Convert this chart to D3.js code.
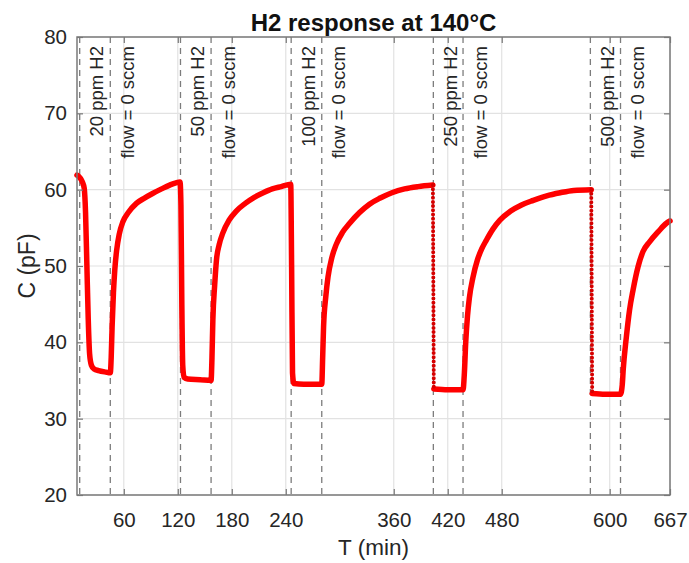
<!DOCTYPE html>
<html>
<head>
<meta charset="utf-8">
<script src="https://cdn.jsdelivr.net/npm/d3@7"></script>
<style>
  body { margin: 0; background: #fff; }
  svg { font-family: "Liberation Sans", Arial, Helvetica, sans-serif; }
</style>
</head>
<body>
<script>
// H2 response trace (time in minutes, capacitance in pF)
var timeMin = [8, 11, 14, 16, 17.5, 19, 20.5, 22, 24, 27, 32, 40, 45,
  46, 47, 48.5, 50, 52, 55, 59, 65, 74, 83, 92, 102, 111, 118, 122.5,
  123.5, 124.5, 125.5, 127, 131, 145, 157,
  158, 159, 161, 163, 166, 170, 177, 185, 195, 205, 215, 225, 235, 245.5,
  246.5, 247.5, 249, 260, 280,
  281, 282, 284.5, 287, 291, 296, 303, 311, 322, 333, 345, 358, 372, 387, 403.5,
  404.5, 420, 437,
  438.5, 440, 442, 444, 448, 453, 458, 463, 470, 478, 490, 502, 515, 530, 545, 560, 579.5,
  580.5, 595, 612,
  614, 615, 618.5, 622, 626, 631.5, 637, 644.5, 654, 663, 667];
var capPF = [61.9, 61.6, 61.0, 60.2, 57, 50, 43, 38.5, 37.0, 36.5, 36.3, 36.1, 36.0,
  38, 42, 46.5, 49.5, 52, 54.2, 55.8, 57.0, 58.2, 58.9, 59.5, 60.1, 60.6, 60.9, 61.0,
  58, 45, 37, 35.4, 35.2, 35.1, 35.0,
  38, 43, 47.5, 50.8, 52.8, 54.3, 56, 57.2, 58.2, 59.0, 59.6, 60.1, 60.4, 60.7,
  50, 36, 34.6, 34.5, 34.5,
  38, 42, 46, 48.6, 51, 52.8, 54.4, 55.6, 57, 58.1, 58.9, 59.6, 60.1, 60.4, 60.6,
  33.9, 33.8, 33.8,
  36, 40, 43.5, 45.8, 48.5, 50.8, 52.3, 53.4, 54.8, 56.0, 57.2, 58, 58.6, 59.2, 59.6, 59.9, 60.0,
  33.3, 33.2, 33.2,
  34.5, 36.4, 40.7, 44.2, 46.9, 49.9, 51.9, 53.2, 54.5, 55.6, 55.9];

// drops that were sampled sparsely (drawn as separate dots)
var dottedDropStart = [403.5, 579.5];

// event markers (dashed vertical lines)
var eventT = [11, 45, 123, 157, 246, 280, 404, 437, 578.5, 612];
var eventLabel = ['20 ppm H2', 'flow = 0 sccm', '50 ppm H2', 'flow = 0 sccm',
  '100 ppm H2', 'flow = 0 sccm', '250 ppm H2', 'flow = 0 sccm',
  '500 ppm H2', 'flow = 0 sccm'];

var xTicks = [60, 120, 180, 240, 360, 420, 480, 600, 667];
var yTicks = [20, 30, 40, 50, 60, 70, 80];

var svg_width = 689;
var svg_height = 563;
var plot_left = 77, plot_right = 670, plot_top = 37, plot_bottom = 495;

var svg = d3.select('body').append('svg')
  .attr('width', svg_width)
  .attr('height', svg_height);

var x = d3.scaleLinear().domain([8, 667]).range([plot_left, plot_right]);
var y = d3.scaleLinear().domain([20, 80]).range([plot_bottom, plot_top]);

// grid
svg.selectAll('line.xgrid')
  .data(xTicks)
  .enter().append('line')
  .attr('class', 'xgrid')
  .attr('x1', function(d) { return x(d); })
  .attr('x2', function(d) { return x(d); })
  .attr('y1', plot_top).attr('y2', plot_bottom)
  .attr('stroke', '#e2e2e2').attr('stroke-width', 1.2);

svg.selectAll('line.ygrid')
  .data(yTicks)
  .enter().append('line')
  .attr('class', 'ygrid')
  .attr('y1', function(d) { return y(d); })
  .attr('y2', function(d) { return y(d); })
  .attr('x1', plot_left).attr('x2', plot_right)
  .attr('stroke', '#e2e2e2').attr('stroke-width', 1.2);

// event lines
svg.selectAll('line.event')
  .data(eventT)
  .enter().append('line')
  .attr('class', 'event')
  .attr('x1', function(d) { return x(d); })
  .attr('x2', function(d) { return x(d); })
  .attr('y1', plot_top).attr('y2', plot_bottom)
  .attr('stroke', '#7c7c7c').attr('stroke-width', 1.3)
  .attr('stroke-dasharray', '6,5');

svg.selectAll('text.event-label')
  .data(eventLabel)
  .enter().append('text')
  .attr('class', 'event-label')
  .attr('transform', function(d, i) {
    return 'translate(' + (x(eventT[i]) + 23.5) + ',' + 46 + ') rotate(-90)';
  })
  .attr('text-anchor', 'end')
  .attr('font-size', 18.5)
  .attr('fill', '#262626')
  .text(function(d) { return d; });

// trace, split at the sparsely sampled drops
var points = timeMin.map(function(t, i) { return [t, capPF[i]]; });
var pieces = [];
var dots = [];
var current = [];
points.forEach(function(p, i) {
  current.push(p);
  if (dottedDropStart.indexOf(p[0]) >= 0 && i + 1 < points.length) {
    pieces.push(current);
    dots.push([p, points[i + 1]]);
    current = [];
  }
});
pieces.push(current);

var line = d3.line()
  .x(function(d) { return x(d[0]); })
  .y(function(d) { return y(d[1]); })
  .curve(d3.curveMonotoneX);

svg.selectAll('path.trace')
  .data(pieces)
  .enter().append('path')
  .attr('class', 'trace')
  .attr('d', line)
  .attr('fill', 'none')
  .attr('stroke', '#ff0000')
  .attr('stroke-width', 5.5)
  .attr('stroke-linejoin', 'round')
  .attr('stroke-linecap', 'round');

svg.selectAll('path.drop')
  .data(dots)
  .enter().append('path')
  .attr('class', 'drop')
  .attr('d', d3.line()
    .x(function(d) { return x(d[0]); })
    .y(function(d) { return y(d[1]); }))
  .attr('fill', 'none')
  .attr('stroke', '#d60000')
  .attr('stroke-width', 4)
  .attr('stroke-linecap', 'round')
  .attr('stroke-dasharray', '0,4.2');

// axes (MATLAB style box, ticks inside)
svg.append('g')
  .attr('transform', 'translate(0,' + plot_bottom + ')')
  .call(d3.axisBottom(x).tickValues(xTicks).tickSize(-6).tickPadding(17).tickFormat(d3.format('d')));
svg.append('g')
  .attr('transform', 'translate(' + plot_left + ',0)')
  .call(d3.axisLeft(y).tickValues(yTicks).tickSize(-6).tickPadding(10));
svg.append('g')
  .attr('transform', 'translate(0,' + plot_top + ')')
  .call(d3.axisTop(x).tickValues(xTicks).tickSize(-6).tickFormat(''));
svg.append('g')
  .attr('transform', 'translate(' + plot_right + ',0)')
  .call(d3.axisRight(y).tickValues(yTicks).tickSize(-6).tickFormat(''));

svg.selectAll('.domain').remove();
svg.selectAll('.tick line').attr('stroke', '#777').attr('stroke-width', 1.2);
svg.selectAll('.tick text')
  .attr('font-size', 20.5)
  .attr('font-family', '"Liberation Sans", Arial, sans-serif')
  .attr('fill', '#262626');

svg.append('rect')
  .attr('x', plot_left).attr('y', plot_top)
  .attr('width', plot_right - plot_left)
  .attr('height', plot_bottom - plot_top)
  .attr('fill', 'none')
  .attr('stroke', '#7a7a7a')
  .attr('stroke-width', 1.5);

// titles
svg.append('text')
  .attr('x', (plot_left + plot_right) / 2)
  .attr('y', 31)
  .attr('text-anchor', 'middle')
  .attr('font-size', 24)
  .attr('font-weight', 'bold')
  .attr('fill', '#111')
  .text('H2 response at 140\u00B0C');

svg.append('text')
  .attr('x', (plot_left + plot_right) / 2)
  .attr('y', 555)
  .attr('text-anchor', 'middle')
  .attr('font-size', 22.5)
  .attr('fill', '#262626')
  .text('T (min)');

svg.append('text')
  .attr('transform', 'translate(' + 35 + ',' + (plot_top + plot_bottom) / 2 + ') rotate(-90)')
  .attr('text-anchor', 'middle')
  .attr('font-size', 23)
  .attr('fill', '#262626')
  .text('C (pF)');
</script>
</body>
</html>
